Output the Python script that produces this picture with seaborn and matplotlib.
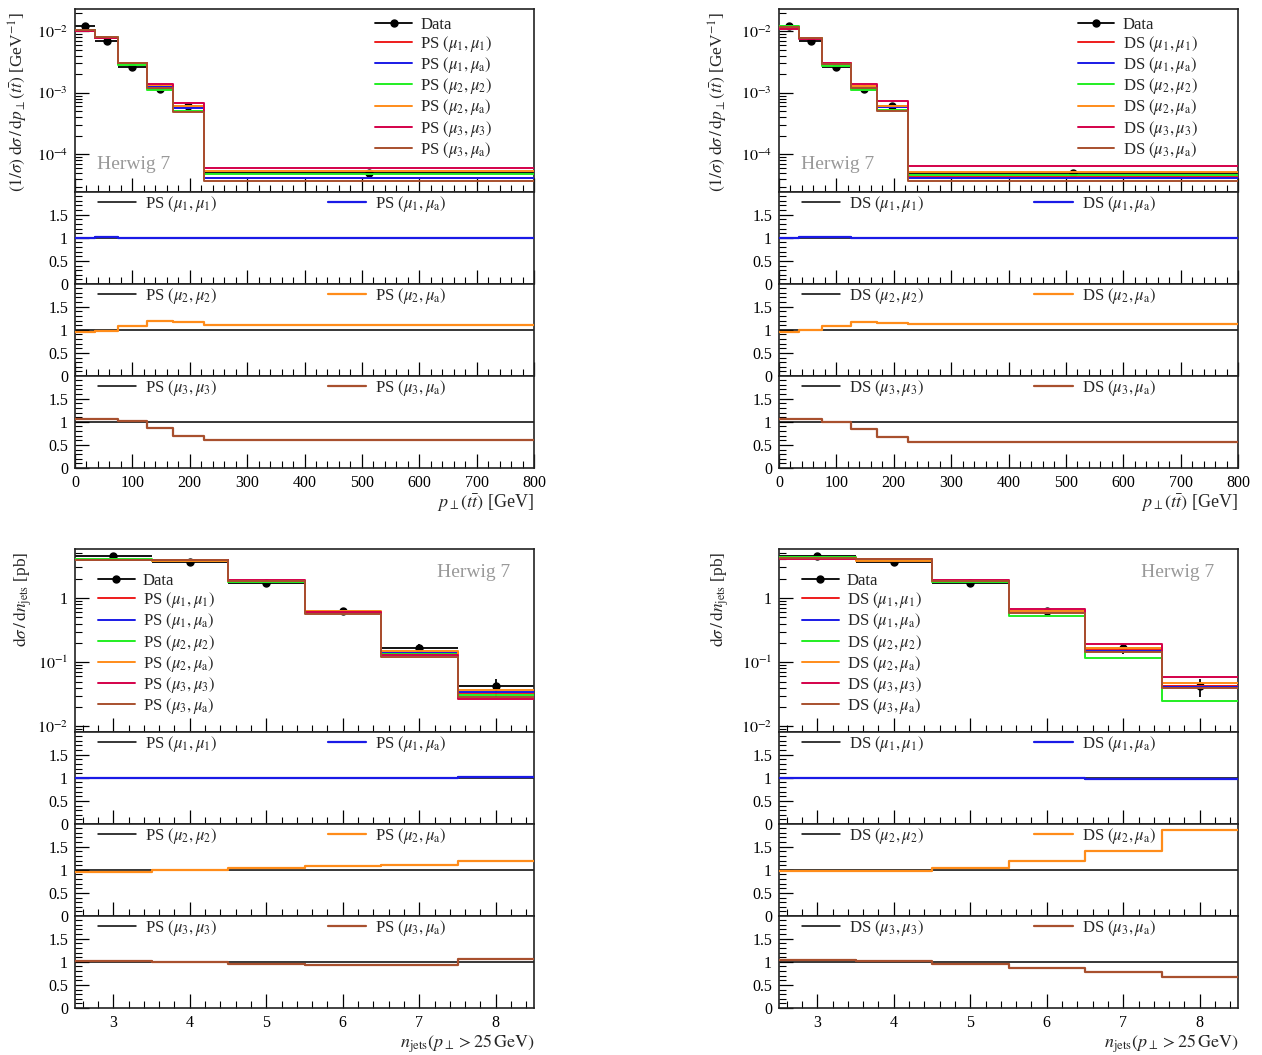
import numpy as np
import matplotlib
matplotlib.use("Agg")
import matplotlib.pyplot as plt
import seaborn as sns
from matplotlib.ticker import FixedLocator, MultipleLocator, FuncFormatter, LogLocator, NullFormatter
from matplotlib.lines import Line2D

sns.set_theme(style="white")
plt.rcParams["font.family"] = ["Liberation Serif", "DejaVu Serif"]
plt.rcParams["mathtext.fontset"] = "stix"

# ---------------- data ----------------
pt_edges = [0, 35, 75, 125, 170, 225, 800]
nj_edges = [2.5, 3.5, 4.5, 5.5, 6.5, 7.5, 8.5]

pt_data = [0.0123, 0.0070, 0.0026, 0.00114, 0.00060, 5.0e-5]
pt_data_err = [0.0004, 0.0002, 0.00008, 0.00004, 0.00003, 0.3e-5]
nj_data = [4.45, 3.66, 1.70, 0.63, 0.165, 0.042]
nj_data_err = [0.35, 0.15, 0.07, 0.06, 0.03, 0.013]

# p_T(ttbar), PS
ps_pt_mu1_mu1 = [0.0103, 0.0079, 0.0030, 0.00125, 0.00058, 4.2e-5]
ps_pt_mu1_mua = [0.0103, 0.0079, 0.0030, 0.00124, 0.00057, 4.15e-5]
ps_pt_mu2_mu2 = [0.0106, 0.0081, 0.0028, 0.00113, 0.00051, 4.8e-5]
ps_pt_mu2_mua = [0.0102, 0.0079, 0.00305, 0.00134, 0.00060, 5.3e-5]
ps_pt_mu3_mu3 = [0.0101, 0.0077, 0.0030, 0.00139, 0.00069, 6.1e-5]
ps_pt_mu3_mua = [0.0106, 0.0081, 0.0030, 0.00121, 0.00048, 3.7e-5]
ps_pt_ratio1 = [1.0, 1.01, 1.0, 0.99, 0.99, 0.99]
ps_pt_ratio2 = [0.96, 0.97, 1.09, 1.19, 1.17, 1.10]
ps_pt_ratio3 = [1.05, 1.05, 1.01, 0.87, 0.70, 0.61]

# p_T(ttbar), DS
ds_pt_mu1_mu1 = [0.0115, 0.0077, 0.0029, 0.00125, 0.00058, 4.3e-5]
ds_pt_mu1_mua = [0.0115, 0.0078, 0.00293, 0.00125, 0.00058, 4.2e-5]
ds_pt_mu2_mu2 = [0.0120, 0.0077, 0.00275, 0.00112, 0.00052, 4.6e-5]
ds_pt_mu2_mua = [0.0115, 0.0077, 0.0030, 0.0013, 0.0006, 5.15e-5]
ds_pt_mu3_mu3 = [0.0110, 0.0075, 0.0030, 0.00141, 0.00074, 6.4e-5]
ds_pt_mu3_mua = [0.0118, 0.0079, 0.00297, 0.00118, 0.0005, 3.65e-5]
ds_pt_ratio1 = [1.0, 1.02, 1.01, 1.0, 1.0, 1.0]
ds_pt_ratio2 = [0.96, 1.0, 1.09, 1.16, 1.15, 1.12]
ds_pt_ratio3 = [1.07, 1.05, 0.99, 0.84, 0.67, 0.57]

# n_jets, PS
ps_nj_mu1_mu1 = [3.95, 3.85, 1.85, 0.59, 0.138, 0.033]
ps_nj_mu1_mua = [3.95, 3.85, 1.85, 0.59, 0.138, 0.0338]
ps_nj_mu2_mu2 = [4.0, 3.8, 1.78, 0.575, 0.136, 0.031]
ps_nj_mu2_mua = [3.88, 3.8, 1.85, 0.62, 0.150, 0.0366]
ps_nj_mu3_mu3 = [3.9, 3.9, 1.9, 0.60, 0.128, 0.027]
ps_nj_mu3_mua = [3.98, 3.9, 1.84, 0.57, 0.122, 0.0286]
ps_nj_ratio1 = [1.0, 1.0, 1.0, 1.0, 1.0, 1.02]
ps_nj_ratio2 = [0.96, 1.0, 1.04, 1.09, 1.10, 1.18]
ps_nj_ratio3 = [1.02, 0.99, 0.96, 0.94, 0.94, 1.07]

# n_jets, DS
ds_nj_mu1_mu1 = [4.2, 3.95, 1.85, 0.60, 0.155, 0.042]
ds_nj_mu1_mua = [4.2, 3.95, 1.85, 0.60, 0.152, 0.041]
ds_nj_mu2_mu2 = [4.35, 3.9, 1.78, 0.53, 0.118, 0.025]
ds_nj_mu2_mua = [4.22, 3.82, 1.85, 0.63, 0.166, 0.047]
ds_nj_mu3_mu3 = [4.1, 4.0, 1.92, 0.68, 0.19, 0.059]
ds_nj_mu3_mua = [4.26, 4.04, 1.82, 0.59, 0.146, 0.0395]
ds_nj_ratio1 = [1.0, 1.0, 1.0, 1.0, 0.97, 0.97]
ds_nj_ratio2 = [0.97, 0.98, 1.04, 1.19, 1.41, 1.87]
ds_nj_ratio3 = [1.04, 1.01, 0.95, 0.87, 0.77, 0.67]

scale_tags = [r"$(\mu_1, \mu_1)$", r"$(\mu_1, \mu_\mathrm{a})$", r"$(\mu_2, \mu_2)$",
              r"$(\mu_2, \mu_\mathrm{a})$", r"$(\mu_3, \mu_3)$", r"$(\mu_3, \mu_\mathrm{a})$"]
colors = ["#ee1c1c", "#1a1ae6", "#22ee22", "#ff8c1a", "#d4004a", "#a8502e"]

# ---------------- layout ----------------
W, H = 1262, 1055
fig = plt.figure(figsize=(W / 100, H / 100), dpi=100)


def px_axes(x0, x1, y0, y1):
    return fig.add_axes([x0 / W, 1 - y1 / H, (x1 - x0) / W, (y1 - y0) / H])


def style_ticks(ax):
    ax.tick_params(axis="both", which="both", direction="in", left=True, bottom=True,
                   top=False, right=False, labelsize=11.5, colors="black", pad=5)
    ax.tick_params(which="major", length=10, width=0.9)
    ax.tick_params(which="minor", length=5, width=0.8)
    for s in ax.spines.values():
        s.set_linewidth(1.2)
        s.set_color("#222222")


def log_fmt(v, pos):
    e = int(round(np.log10(v)))
    if e == 0:
        return "1"
    return r"$10^{%d}$" % e


def step(ax, edges, vals, color, lw=1.4, zorder=3):
    xs = np.asarray(edges, dtype=float)
    ys = np.append(np.asarray(vals, dtype=float), vals[-1])
    sns.lineplot(x=xs, y=ys, drawstyle="steps-post", color=color, lw=lw, ax=ax,
                 zorder=zorder, legend=False, estimator=None, sort=False)


def panel(x0, x1, ytop, gen, edges, data, derr, mcs, ratios, ylim, xticks, xlim,
          xminor, ylabel, xlabel, leg_x, leg_y, herwig_xy, herwig_ha, ylabel_x):
    main_bot = ytop + 183
    ax = px_axes(x0, x1, ytop, main_bot)
    rax = [px_axes(x0, x1, main_bot + 92 * i, main_bot + 92 * (i + 1)) for i in range(3)]

    centers = 0.5 * (np.array(edges[:-1]) + np.array(edges[1:]))
    halfw = 0.5 * (np.array(edges[1:]) - np.array(edges[:-1]))
    ax.errorbar(centers, data, xerr=halfw, yerr=derr, fmt="o", color="black",
                ms=5, lw=1.3, capsize=0, zorder=2)
    for vals, c in zip(mcs, colors):
        step(ax, edges, vals, c)
    ax.set_yscale("log")
    ax.set_ylim(*ylim)
    ax.set_xlim(*xlim)
    ax.yaxis.set_major_locator(LogLocator(base=10, numticks=10))
    ax.yaxis.set_minor_locator(LogLocator(base=10, subs=np.arange(2, 10), numticks=20))
    ax.yaxis.set_major_formatter(FuncFormatter(log_fmt))
    ax.yaxis.set_minor_formatter(NullFormatter())
    ax.xaxis.set_major_locator(FixedLocator(xticks))
    ax.xaxis.set_minor_locator(MultipleLocator(xminor))
    ax.set_xticklabels([])
    style_ticks(ax)
    ax.set_xlabel("")
    ax.set_ylabel(ylabel, fontsize=12.5)
    ax.yaxis.set_label_coords(ylabel_x, 0.985)
    ax.yaxis.label.set_ha("right")
    ax.yaxis.label.set_va("center")

    handles = [Line2D([], [], color="black", marker="o", ms=5, lw=1.3)]
    labels = ["Data"]
    for t, c in zip(scale_tags, colors):
        handles.append(Line2D([], [], color=c, lw=1.4))
        labels.append(gen + " " + t)
    ax.legend(handles, labels, loc="upper left", bbox_to_anchor=(leg_x, leg_y),
              frameon=False, fontsize=12, handlelength=2.2, handletextpad=0.5,
              labelspacing=0.07, borderaxespad=0, borderpad=0)
    ax.text(herwig_xy[0], herwig_xy[1], "Herwig 7", transform=ax.transAxes,
            fontsize=14, color="#999999", ha=herwig_ha, va="center")

    for i, r in enumerate(rax):
        ax_r = r
        ax_r.axhline(1.0, color="black", lw=1.1, zorder=2)
        step(ax_r, edges, ratios[i], colors[2 * i + 1], lw=1.6)
        ax_r.set_ylim(0, 1.99)
        ax_r.set_xlim(*xlim)
        ax_r.yaxis.set_major_locator(FixedLocator([0, 0.5, 1, 1.5]))
        ax_r.yaxis.set_minor_locator(MultipleLocator(0.1))
        ax_r.yaxis.set_major_formatter(FuncFormatter(lambda v, p: "%g" % v))
        ax_r.xaxis.set_major_locator(FixedLocator(xticks))
        ax_r.xaxis.set_minor_locator(MultipleLocator(xminor))
        style_ticks(ax_r)
        ax_r.set_ylabel("")
        if i < 2:
            ax_r.set_xticklabels([])
            ax_r.set_xlabel("")
        else:
            ax_r.set_xticks(xticks)
            ax_r.set_xticklabels([("%g" % t) for t in xticks])
            ax_r.set_xlabel(xlabel, fontsize=13)
            ax_r.xaxis.set_label_coords(1.0, -0.27)
            ax_r.xaxis.label.set_ha("right")
            ax_r.xaxis.label.set_va("top")
        h = [Line2D([], [], color="black", lw=1.1), Line2D([], [], color=colors[2 * i + 1], lw=1.6)]
        l = [gen + " " + scale_tags[2 * i], gen + " " + scale_tags[2 * i + 1]]
        ax_r.legend(h, l, loc="upper left", bbox_to_anchor=(0.05, 0.975), ncol=2,
                    frameon=False, fontsize=12, handlelength=2.3, handletextpad=0.55,
                    columnspacing=6.6, borderaxespad=0, borderpad=0)


pt_ticks = [0, 100, 200, 300, 400, 500, 600, 700, 800]
nj_ticks = [3, 4, 5, 6, 7, 8]
pt_ylabel = r"$(1/\sigma)\;\mathrm{d}\sigma\,/\,\mathrm{d}p_\perp(t\bar{t})$ [GeV$^{-1}$]"
nj_ylabel = r"$\mathrm{d}\sigma\,/\,\mathrm{d}n_\mathrm{jets}$ [pb]"
pt_xlabel = r"$p_\perp(t\bar{t})$ [GeV]"
nj_xlabel = r"$n_\mathrm{jets}(p_\perp > 25\,\mathrm{GeV})$"

panel(75, 534, 9, "PS", pt_edges, pt_data, pt_data_err,
      [ps_pt_mu1_mu1, ps_pt_mu1_mua, ps_pt_mu2_mu2, ps_pt_mu2_mua, ps_pt_mu3_mu3, ps_pt_mu3_mua],
      [ps_pt_ratio1, ps_pt_ratio2, ps_pt_ratio3], (2.45e-5, 0.023), pt_ticks, (0, 800), 20,
      pt_ylabel, pt_xlabel, 0.654, 0.958, (0.048, 0.15), "left", -0.124)
panel(779, 1238, 9, "DS", pt_edges, pt_data, pt_data_err,
      [ds_pt_mu1_mu1, ds_pt_mu1_mua, ds_pt_mu2_mu2, ds_pt_mu2_mua, ds_pt_mu3_mu3, ds_pt_mu3_mua],
      [ds_pt_ratio1, ds_pt_ratio2, ds_pt_ratio3], (2.45e-5, 0.023), pt_ticks, (0, 800), 20,
      pt_ylabel, pt_xlabel, 0.651, 0.958, (0.048, 0.15), "left", -0.132)
panel(75, 534, 549, "PS", nj_edges, nj_data, nj_data_err,
      [ps_nj_mu1_mu1, ps_nj_mu1_mua, ps_nj_mu2_mu2, ps_nj_mu2_mua, ps_nj_mu3_mu3, ps_nj_mu3_mua],
      [ps_nj_ratio1, ps_nj_ratio2, ps_nj_ratio3], (0.0082, 5.8), nj_ticks, (2.5, 8.5), 0.2,
      nj_ylabel, nj_xlabel, 0.05, 0.868, (0.948, 0.87), "right", -0.115)
panel(779, 1238, 549, "DS", nj_edges, nj_data, nj_data_err,
      [ds_nj_mu1_mu1, ds_nj_mu1_mua, ds_nj_mu2_mu2, ds_nj_mu2_mua, ds_nj_mu3_mu3, ds_nj_mu3_mua],
      [ds_nj_ratio1, ds_nj_ratio2, ds_nj_ratio3], (0.0082, 5.8), nj_ticks, (2.5, 8.5), 0.2,
      nj_ylabel, nj_xlabel, 0.05, 0.868, (0.948, 0.87), "right", -0.13)

fig.savefig("out.png", dpi=100)
